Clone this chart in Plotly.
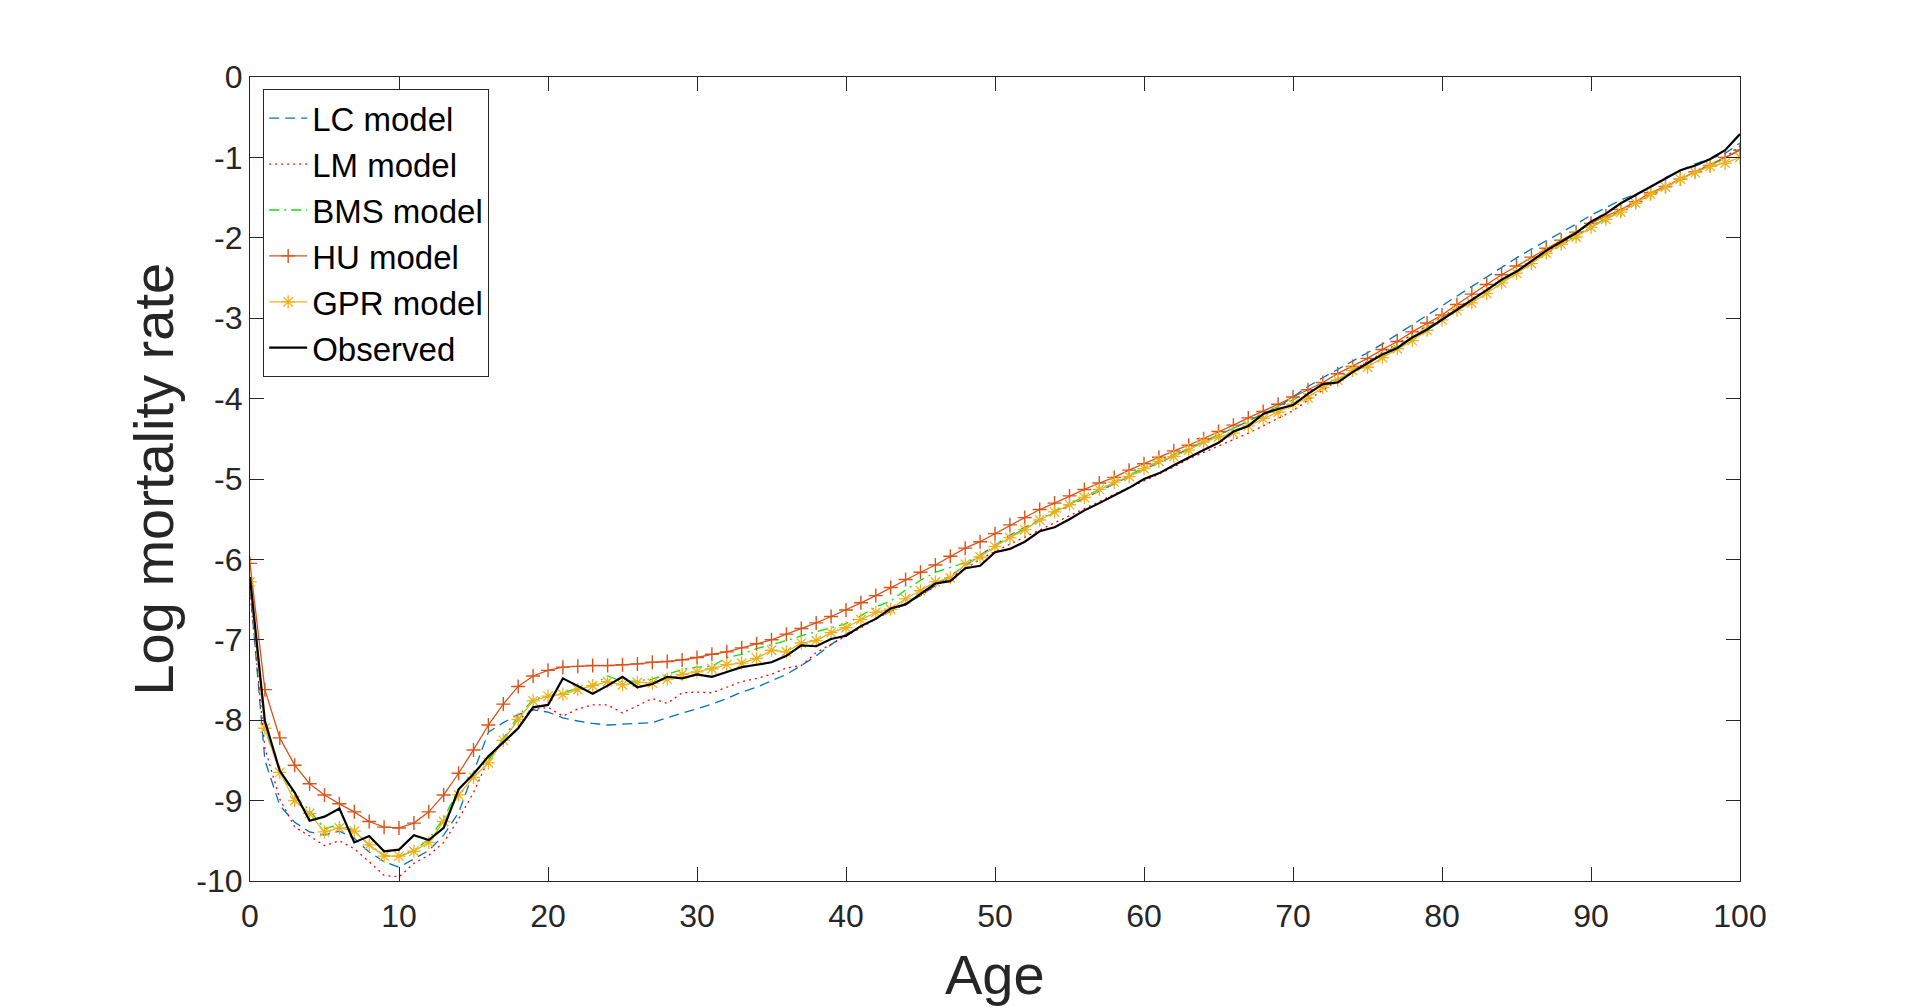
import plotly.graph_objects as go

# ages 0..100
ages = list(range(0, 101))

lc_model = [
    -6.35, -8.50, -9.06, -9.27, -9.39, -9.43, -9.38, -9.47, -9.64, -9.76,
    -9.83, -9.72, -9.62, -9.43, -9.15, -8.65, -8.15, -8.03, -7.93, -7.87,
    -7.90, -7.97, -8.01, -8.04, -8.06, -8.05, -8.04, -8.03, -7.97, -7.91,
    -7.86, -7.80, -7.73, -7.65, -7.59, -7.51, -7.43, -7.32, -7.20, -7.06,
    -6.93, -6.83, -6.74, -6.65, -6.55, -6.45, -6.33, -6.21, -6.08, -5.95,
    -5.82, -5.70, -5.60, -5.51, -5.42, -5.33, -5.23, -5.14, -5.05, -4.96,
    -4.88, -4.80, -4.71, -4.63, -4.54, -4.45, -4.37, -4.28, -4.19, -4.10,
    -3.98, -3.85, -3.74, -3.64, -3.54, -3.43, -3.32, -3.20, -3.08, -2.97,
    -2.85, -2.73, -2.61, -2.48, -2.36, -2.25, -2.14, -2.04, -1.94, -1.83,
    -1.72, -1.62, -1.53, -1.46, -1.37, -1.25, -1.17, -1.08, -1.02, -0.95,
    -0.82]

lm_model = [
    -6.40, -8.35, -8.98, -9.33, -9.44, -9.56, -9.50, -9.60, -9.76, -9.93,
    -9.95, -9.78, -9.68, -9.52, -9.23, -8.90, -8.49, -8.24, -7.99, -7.87,
    -7.84, -7.95, -7.86, -7.81, -7.81, -7.91, -7.82, -7.73, -7.79, -7.66,
    -7.65, -7.66, -7.59, -7.52, -7.48, -7.43, -7.35, -7.32, -7.16, -7.06,
    -6.95, -6.85, -6.74, -6.65, -6.55, -6.45, -6.33, -6.23, -6.11, -6.00,
    -5.90, -5.81, -5.72, -5.63, -5.54, -5.46, -5.37, -5.28, -5.19, -5.11,
    -5.02, -4.94, -4.85, -4.75, -4.67, -4.59, -4.52, -4.43, -4.34, -4.25,
    -4.15, -4.02, -3.89, -3.77, -3.65, -3.54, -3.43, -3.32, -3.21, -3.10,
    -2.99, -2.87, -2.76, -2.64, -2.53, -2.41, -2.30, -2.19, -2.08, -1.98,
    -1.87, -1.77, -1.67, -1.57, -1.46, -1.37, -1.27, -1.18, -1.09, -1.00,
    -0.86]

bms_model = [
    -6.30, -8.12, -8.62, -8.95, -9.12, -9.35, -9.30, -9.38, -9.55, -9.68,
    -9.70, -9.62, -9.48, -9.22, -8.86, -8.65, -8.50, -8.22, -7.95, -7.74,
    -7.70, -7.66, -7.60, -7.56, -7.45, -7.52, -7.51, -7.49, -7.43, -7.37,
    -7.34, -7.33, -7.22, -7.18, -7.11, -7.06, -7.01, -6.95, -6.90, -6.85,
    -6.80, -6.70, -6.59, -6.52, -6.38, -6.26, -6.16, -6.10, -6.04, -5.96,
    -5.83, -5.72, -5.61, -5.51, -5.40, -5.31, -5.22, -5.12, -5.04, -4.94,
    -4.86, -4.78, -4.69, -4.62, -4.54, -4.45, -4.37, -4.28, -4.18, -4.10,
    -4.02, -3.93, -3.83, -3.75, -3.65, -3.55, -3.45, -3.34, -3.24, -3.12,
    -3.00, -2.88, -2.77, -2.66, -2.54, -2.42, -2.30, -2.18, -2.07, -1.98,
    -1.86, -1.76, -1.66, -1.56, -1.45, -1.36, -1.27, -1.18, -1.09, -1.01,
    -0.90]

hu_model = [
    -6.05, -7.62, -8.22, -8.56, -8.79, -8.93, -9.04, -9.14, -9.26, -9.33,
    -9.34, -9.28, -9.14, -8.93, -8.66, -8.37, -8.06, -7.80, -7.58, -7.45,
    -7.38, -7.34, -7.33, -7.32, -7.32, -7.31, -7.30, -7.28, -7.27, -7.25,
    -7.22, -7.18, -7.15, -7.10, -7.05, -7.00, -6.93, -6.86, -6.79, -6.71,
    -6.63, -6.54, -6.45, -6.35, -6.25, -6.16, -6.07, -5.96, -5.86, -5.78,
    -5.68, -5.57, -5.48, -5.38, -5.30, -5.21, -5.13, -5.05, -4.98, -4.89,
    -4.81, -4.73, -4.65, -4.58, -4.50, -4.41, -4.33, -4.24, -4.16, -4.07,
    -3.98, -3.89, -3.80, -3.69, -3.60, -3.50, -3.39, -3.29, -3.17, -3.06,
    -2.96, -2.83, -2.70, -2.58, -2.46, -2.35, -2.24, -2.13, -2.03, -1.93,
    -1.82, -1.73, -1.65, -1.55, -1.44, -1.36, -1.27, -1.18, -1.10, -1.00,
    -0.91]

gpr_model = [
    -6.28, -8.10, -8.65, -9.00, -9.16, -9.39, -9.34, -9.38, -9.55, -9.69,
    -9.69, -9.63, -9.52, -9.26, -8.93, -8.71, -8.53, -8.25, -7.99, -7.76,
    -7.70, -7.68, -7.62, -7.57, -7.52, -7.56, -7.53, -7.54, -7.49, -7.43,
    -7.40, -7.36, -7.31, -7.29, -7.23, -7.13, -7.15, -7.04, -7.01, -6.91,
    -6.85, -6.75, -6.66, -6.62, -6.49, -6.39, -6.28, -6.23, -6.06, -5.97,
    -5.84, -5.73, -5.63, -5.51, -5.41, -5.32, -5.23, -5.13, -5.04, -4.97,
    -4.87, -4.78, -4.72, -4.64, -4.54, -4.48, -4.43, -4.34, -4.25, -4.17,
    -4.07, -3.99, -3.86, -3.77, -3.65, -3.61, -3.49, -3.38, -3.28, -3.15,
    -3.02, -2.90, -2.81, -2.69, -2.56, -2.44, -2.32, -2.19, -2.08, -1.99,
    -1.87, -1.77, -1.68, -1.57, -1.46, -1.37, -1.27, -1.19, -1.11, -1.07,
    -1.00]

observed = [
    -6.22, -8.01, -8.63, -8.90, -9.25, -9.20, -9.10, -9.52, -9.44, -9.63,
    -9.61, -9.43, -9.49, -9.34, -8.86, -8.67, -8.45, -8.27, -8.10, -7.84,
    -7.81, -7.48, -7.57, -7.67, -7.57, -7.46, -7.59, -7.55, -7.46, -7.48,
    -7.43, -7.46, -7.40, -7.34, -7.31, -7.28, -7.20, -7.07, -7.08, -6.99,
    -6.95, -6.83, -6.74, -6.61, -6.56, -6.43, -6.30, -6.27, -6.11, -6.08,
    -5.91, -5.87, -5.78, -5.65, -5.60, -5.50, -5.39, -5.30, -5.21, -5.11,
    -5.00, -4.93, -4.83, -4.73, -4.64, -4.55, -4.41, -4.34, -4.19, -4.13,
    -4.08, -3.94, -3.82, -3.80, -3.67, -3.56, -3.45, -3.37, -3.24, -3.14,
    -3.02, -2.89, -2.77, -2.65, -2.52, -2.42, -2.29, -2.16, -2.05, -1.94,
    -1.80, -1.70, -1.57, -1.47, -1.37, -1.26, -1.16, -1.10, -1.02, -0.91,
    -0.71]

x_ticks = list(range(0, 101, 10))
y_ticks = list(range(-10, 1))

FONT = 'Liberation Sans, Arial, sans-serif'
AXC = '#262626'

fig = go.Figure()

# model fits
fig.add_trace(go.Scatter(x=ages, y=lc_model, name='LC model', mode='lines',
                         line=dict(color='#0072BD', width=1.3, dash='10px,6px')))
fig.add_trace(go.Scatter(x=ages, y=lm_model, name='LM model', mode='lines',
                         line=dict(color='#FF0000', width=1.3, dash='2px,4px')))
fig.add_trace(go.Scatter(x=ages, y=bms_model, name='BMS model', mode='lines',
                         line=dict(color='#00E600', width=1.3, dash='10px,5px,2px,5px')))
fig.add_trace(go.Scatter(x=ages, y=hu_model, name='HU model', mode='lines+markers',
                         line=dict(color='#D95319', width=1.3),
                         marker=dict(symbol='cross-thin-open', size=10,
                                     line=dict(color='#D95319', width=1.4))))
fig.add_trace(go.Scatter(x=ages, y=gpr_model, name='GPR model', mode='lines+markers',
                         line=dict(color='#EDB120', width=1.3),
                         marker=dict(symbol='asterisk-open', size=11,
                                     line=dict(color='#EDB120', width=1.3))))
fig.add_trace(go.Scatter(x=ages, y=observed, name='Observed', mode='lines',
                         line=dict(color='black', width=2.2)))

# axis titles as annotations (MATLAB-style placement)
fig.add_annotation(text='Age', xref='paper', yref='paper', x=0.5, y=-0.1164,
                   xanchor='center', yanchor='middle', showarrow=False,
                   font=dict(family=FONT, size=56, color=AXC))
fig.add_annotation(text='Log mortality rate', xref='paper', yref='paper',
                   x=-0.0654, y=0.5, textangle=-90, xanchor='center',
                   yanchor='middle', showarrow=False,
                   font=dict(family=FONT, size=56, color=AXC))

axis_common = dict(showline=True, linecolor=AXC, linewidth=1.2, mirror='ticks',
                   ticks='inside', ticklen=14, tickwidth=1.2, tickcolor=AXC,
                   showgrid=False, zeroline=False,
                   tickfont=dict(family=FONT, size=32, color=AXC))

# page body has an 8px margin, so the figure is shifted by 8px
fig.update_layout(
    width=1916, height=999,
    margin=dict(l=242, r=184, t=69, b=126),
    paper_bgcolor='white', plot_bgcolor='white',
    xaxis=dict(range=[0, 100], tickvals=x_ticks,
               ticktext=[str(v) for v in x_ticks], ticklabelstandoff=6,
               **axis_common),
    yaxis=dict(range=[-10, 0], tickvals=y_ticks,
               ticktext=[str(v) for v in y_ticks], **axis_common),
    legend=dict(x=0.0087, y=0.985, xanchor='left', yanchor='top',
                bgcolor='white', bordercolor=AXC, borderwidth=1.2,
                font=dict(family=FONT, size=33, color='black'),
                itemwidth=38, tracegroupgap=0),
    showlegend=True,
)

fig.write_html('out.html')
